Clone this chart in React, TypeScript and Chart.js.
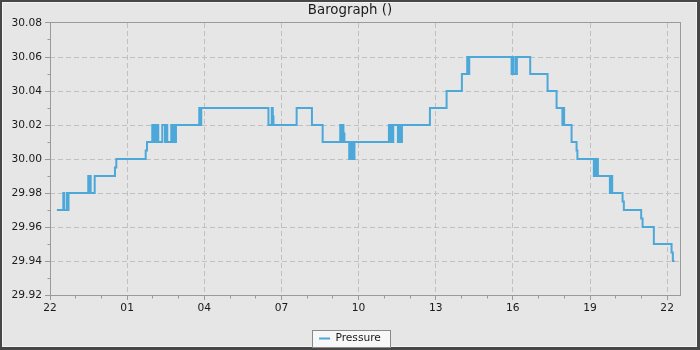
import React, { useEffect, useRef } from 'react';
import { Chart, registerables } from 'chart.js';

Chart.register(...registerables);

const TITLE = 'Barograph ()';
const SERIES_LABEL = 'Pressure';
const START_HOUR = 22;
const X_MIN = 0; // minutes after 22:00
const X_MAX = 1470;
const X_MAJOR = 180;
const X_MINOR = 60;
const Y_MIN = 29.92;
const Y_MAX = 30.08;
const Y_MAJOR = 0.02;
const Y_MINOR = 0.01;

// time of each reading, minutes after 22:00
const minutes = [
  16, 31, 33.4, 39.7, 41.1, 43.2,
  89.3, 91.0, 92.6, 94.9, 104.3,
  151.6, 154.7, 223.3, 226.3,
  238.6, 241.0, 243.3, 245.6, 248.0, 252.6, 262.0, 268.3, 271.8, 273.6, 283.0, 285.3, 289.3, 291.6, 293.9,
  348.3, 349.9, 352.9, 509.7, 517.4, 519.8, 521.4, 575.5,
  611.2, 636.2, 677.2, 680.0, 682.4, 684.7, 687.0,
  698.2, 700.6, 702.9, 705.2, 707.6, 710.4,
  790.8, 793.2, 796.7, 798.5, 800.9, 811.8, 814.2, 818.8, 821.2,
  886.5, 925.4, 961.1, 973.5, 975.8, 978.2,
  1077.1, 1079.4, 1081.3, 1086.7, 1087.8, 1089.4,
  1120.5, 1161.0, 1182.0, 1195.6, 1197.5, 1199.6, 1217.0, 1228.7, 1230.6,
  1269.0, 1271.4, 1273.7, 1276.0, 1278.4,
  1306.4, 1308.7, 1311.8, 1336.0, 1339.0, 1379.4, 1382.7, 1409.0, 1450.3, 1453.3, 1457.3,
];

// pressure (inHg) reached at each time
const pressure = [
  29.97, 29.98, 29.97, 29.98, 29.97, 29.98,
  29.99, 29.98, 29.99, 29.98, 29.99,
  29.995, 30.0, 30.005, 30.01,
  30.02, 30.01, 30.02, 30.01, 30.02, 30.01, 30.02, 30.01, 30.02, 30.01, 30.02, 30.01, 30.02, 30.01, 30.02,
  30.03, 30.02, 30.03, 30.02, 30.03, 30.025, 30.02, 30.03,
  30.02, 30.01, 30.02, 30.01, 30.02, 30.015, 30.01,
  30.0, 30.01, 30.0, 30.01, 30.0, 30.01,
  30.02, 30.01, 30.02, 30.01, 30.02, 30.01, 30.02, 30.01, 30.02,
  30.03, 30.04, 30.05, 30.06, 30.05, 30.06,
  30.05, 30.06, 30.05, 30.06, 30.05, 30.06,
  30.05, 30.04, 30.03, 30.02, 30.03, 30.02, 30.01, 30.005, 30.0,
  29.99, 30.0, 29.99, 30.0, 29.99,
  29.98, 29.99, 29.98, 29.975, 29.97, 29.965, 29.96, 29.95, 29.945, 29.94, 29.94,
];

const FONT = 'DejaVu Sans';
const BG = '#e6e6e6';
const FRAME = '#9a9a9a';
const GRID = '#c0c0c0';
const LINE = '#4da8da';
const TEXT = '#1a1a1a';

const decorPlugin = {
  id: 'decor',
  beforeDraw(chart: any) {
    const { ctx, width, height } = chart;
    ctx.save();
    ctx.fillStyle = '#474747';
    ctx.fillRect(0, 0, width, height);
    ctx.fillStyle = '#f4f4f4';
    ctx.fillRect(2, 2, width - 5, height - 5);
    ctx.fillStyle = BG;
    ctx.fillRect(3, 3, width - 7, height - 7);
    const hb = chart.legend && chart.legend.legendHitBoxes && chart.legend.legendHitBoxes[0];
    if (hb) {
      const cy = hb.top + hb.height / 2;
      const x0 = Math.round(hb.left - 7) + 0.5;
      const x1 = Math.round(hb.left + hb.width + 9) + 0.5;
      const y0 = Math.round(cy - 8.5) + 0.5;
      const y1 = Math.round(cy + 8.5) + 0.5;
      ctx.fillStyle = '#f7f7f7';
      ctx.fillRect(x0, y0, x1 - x0, y1 - y0);
      ctx.strokeStyle = '#8a8a8a';
      ctx.lineWidth = 1;
      ctx.strokeRect(x0, y0, x1 - x0, y1 - y0);
    }
    ctx.restore();
  },
  beforeDatasetsDraw(chart: any) {
    const { ctx, chartArea: a, scales } = chart;
    const xs = scales.x;
    const ys = scales.y;
    ctx.save();
    ctx.strokeStyle = FRAME;
    ctx.lineWidth = 1;
    const L = Math.floor(a.left) + 0.5;
    const R = Math.floor(a.right) + 0.5;
    const T = Math.floor(a.top) + 0.5;
    const B = Math.floor(a.bottom) + 0.5;
    ctx.strokeRect(L, T, R - L, B - T);
    ctx.beginPath();
    for (let m = X_MIN + X_MINOR; m < X_MAX; m += X_MINOR) {
      if (m % X_MAJOR === 0) continue;
      const px = Math.floor(xs.getPixelForValue(m)) + 0.5;
      ctx.moveTo(px, B);
      ctx.lineTo(px, B + 3);
    }
    const n = Math.round((Y_MAX - Y_MIN) / Y_MINOR);
    for (let i = 1; i < n; i += 2) {
      const v = Y_MIN + i * Y_MINOR;
      const py = Math.floor(ys.getPixelForValue(v)) + 0.5;
      ctx.moveTo(L - 3, py);
      ctx.lineTo(L, py);
    }
    ctx.stroke();
    ctx.restore();
  },
};

export default function App() {
  const ref = useRef<HTMLCanvasElement>(null);
  useEffect(() => {
    const data = minutes.map((m, i) => ({ x: m, y: pressure[i] }));
    const chart = new Chart(ref.current as HTMLCanvasElement, {
      type: 'line',
      data: {
        datasets: [
          {
            label: SERIES_LABEL,
            data,
            borderColor: LINE,
            backgroundColor: LINE,
            borderWidth: 2,
            pointRadius: 0,
            fill: false,
            stepped: 'before',
          },
        ],
      },
      options: {
        animation: false,
        responsive: false,
        devicePixelRatio: 1,
        layout: { padding: { top: 0, left: 0, right: 0, bottom: -3.8 } },
        plugins: {
          title: {
            display: true,
            text: TITLE,
            color: TEXT,
            font: { family: FONT, size: 13.33, weight: 'normal' },
            padding: { top: 3, bottom: 4 },
          },
          legend: {
            display: true,
            position: 'bottom',
            labels: {
              usePointStyle: true,
              pointStyle: 'line',
              pointStyleWidth: 11,
              padding: 4,
              color: TEXT,
              font: { family: FONT, size: 10.67 },
            },
          },
          tooltip: { enabled: false },
        },
        scales: {
          x: {
            type: 'linear',
            min: X_MIN,
            max: X_MAX,
            afterBuildTicks: (s: any) => {
              const t = [];
              for (let m = X_MIN; m <= X_MAX; m += X_MAJOR) t.push({ value: m });
              s.ticks = t;
            },
            afterFit: (s: any) => {
              s.height = 34.1;
              s.paddingRight = 20;
            },
            border: { display: false, dash: [5, 3] },
            grid: {
              color: GRID,
              lineWidth: 1,
              tickColor: FRAME,
              tickLength: 5,
              drawTicks: true,
            },
            ticks: {
              autoSkip: false,
              maxRotation: 0,
              padding: 2,
              color: TEXT,
              font: { family: FONT, size: 10.67 },
              callback: (v: any) =>
                String((START_HOUR + Math.round(Number(v) / 60)) % 24).padStart(2, '0'),
            },
          },
          y: {
            type: 'linear',
            min: Y_MIN,
            max: Y_MAX,
            afterFit: (s: any) => {
              s.width = 50;
            },
            border: { display: false, dash: [5, 3] },
            grid: {
              color: GRID,
              lineWidth: 1,
              tickColor: FRAME,
              tickLength: 5,
              drawTicks: true,
            },
            ticks: {
              stepSize: Y_MAJOR,
              padding: 3,
              color: TEXT,
              font: { family: FONT, size: 10.67 },
              callback: (v: any) => Number(v).toFixed(2),
            },
          },
        },
      },
      plugins: [decorPlugin],
    } as any);
    return () => chart.destroy();
  }, []);
  return (
    <div style={{ position: 'fixed', left: 0, top: 0, width: 700, height: 350 }}>
      <canvas ref={ref} width={700} height={350} style={{ display: 'block', width: 700, height: 350 }} />
    </div>
  );
}
